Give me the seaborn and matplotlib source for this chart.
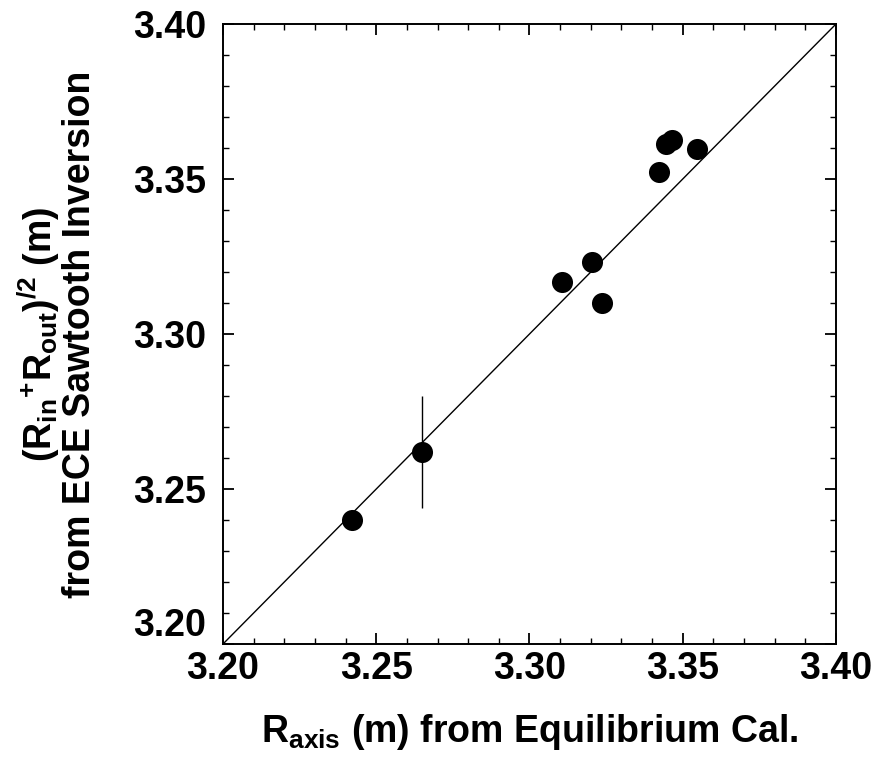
import matplotlib
matplotlib.use("Agg")
import matplotlib.pyplot as plt
import seaborn as sns
import pandas as pd
from matplotlib.ticker import MultipleLocator

# ---- data ----
r_axis = [3.242, 3.265, 3.3105, 3.3205, 3.3236, 3.3424, 3.3444, 3.3464, 3.3546]
r_ece = [3.240, 3.262, 3.3167, 3.3233, 3.3099, 3.3524, 3.3613, 3.3626, 3.3597]
err_x = [3.265]
err_y = [3.262]
err_val = [0.018]
x_ticks = [3.20, 3.25, 3.30, 3.35, 3.40]
y_ticks = [3.20, 3.25, 3.30, 3.35, 3.40]
diag = [3.20, 3.40]

sns.set_style("ticks")
FAM = ["Liberation Sans", "DejaVu Sans"]
plt.rcParams["font.family"] = FAM
plt.rcParams["font.weight"] = "bold"
plt.rcParams["text.color"] = "black"
plt.rcParams["axes.labelcolor"] = "black"
plt.rcParams["xtick.color"] = "black"
plt.rcParams["ytick.color"] = "black"
plt.rcParams["mathtext.fontset"] = "custom"
plt.rcParams["mathtext.rm"] = "Liberation Sans:bold"
plt.rcParams["mathtext.it"] = "Liberation Sans:bold"
plt.rcParams["mathtext.bf"] = "Liberation Sans:bold"

fig = plt.figure(figsize=(8.87, 7.65), dpi=100)
ax = fig.add_axes([223 / 887, 1 - 644 / 765, 613 / 887, 620 / 765])

df = pd.DataFrame({"x": r_axis, "y": r_ece})
sns.lineplot(x=diag, y=diag, ax=ax, color="black", lw=1.0)
ax.errorbar(err_x, err_y, yerr=err_val, fmt="none", ecolor="black", elinewidth=1.0, capsize=0)
sns.scatterplot(data=df, x="x", y="y", ax=ax, s=230, color="black", edgecolor="black",
                linewidth=0, zorder=5)

ax.set_xlim(3.20, 3.40)
ax.set_ylim(3.20, 3.40)
ax.set_xticks(x_ticks)
ax.set_yticks(y_ticks)
ax.set_xticklabels([f"{v:.2f}" for v in x_ticks])
ax.set_yticklabels([f"{v:.2f}" for v in y_ticks])
ax.xaxis.set_minor_locator(MultipleLocator(0.01))
ax.yaxis.set_minor_locator(MultipleLocator(0.01))
ax.tick_params(which="both", direction="in", top=True, right=True, color="black")
ax.tick_params(which="major", length=8, width=1.3, labelsize=27, pad=5)
ax.tick_params(which="minor", length=4, width=1.0)
ax.tick_params(axis="y", which="major", pad=12)
for sp in ax.spines.values():
    sp.set_visible(True)
    sp.set_linewidth(1.4)
    sp.set_color("black")
ax.get_yticklabels()[0].set_va("bottom")

ax.set_xlabel(r"R$_{\mathrm{axis}}$ (m) from Equilibrium Cal.", fontsize=27, fontweight="bold")
ax.set_ylabel("(R$_{\\mathrm{in}}$$^{+}$R$_{\\mathrm{out}}$)$^{/2}$ (m)\nfrom ECE Sawtooth Inversion",
              fontsize=27, fontweight="bold", linespacing=1.0)
ax.yaxis.set_label_coords((98 - 223) / 613, 0.5)
ax.xaxis.set_label_coords(0.5, -(712 - 644) / 620)
ax.xaxis.label.set_va("top")

fig.savefig("out.png", dpi=100)
